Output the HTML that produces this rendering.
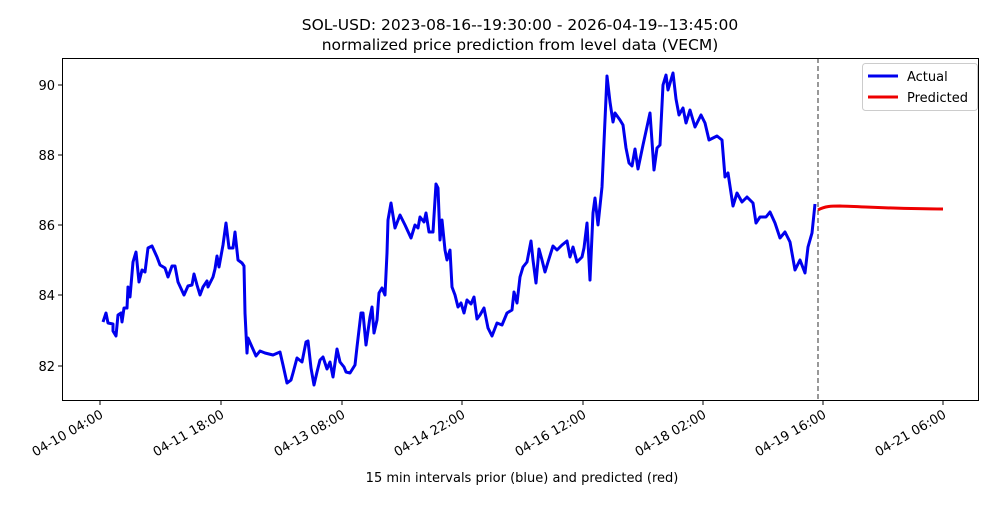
<!DOCTYPE html>
<html><head><meta charset="utf-8"><style>
body{margin:0;background:#fff;}
svg text{font-family:"DejaVu Sans","Liberation Sans",sans-serif;fill:#000;}
</style></head><body>
<svg width="1000" height="500" xmlns="http://www.w3.org/2000/svg">
<rect width="1000" height="500" fill="#fff"/>
<text x="520" y="30" font-size="15.5" text-anchor="middle">SOL-USD: 2023-08-16--19:30:00 - 2026-04-19--13:45:00</text>
<text x="520" y="50" font-size="15.5" text-anchor="middle">normalized price prediction from level data (VECM)</text>
<line x1="818" y1="58" x2="818" y2="400" stroke="#555" stroke-width="1.2" stroke-dasharray="5,3"/>
<polyline fill="none" stroke="#0000ee" stroke-width="3" stroke-linejoin="round" points="103,322 106,313 108,323 113,324 113,331 116,336 118,315 121,313 122,322 124,308 127,308 128,287 130,297 133,262 136,252 139,282 142,270 145,272 148,248 152,246 157,257 160,265 165,268 168,277 172,266 175,266 178,282 184,295 188,286 192,285 194,274 197,285 200,295 203,287 207,281 208,287 213,277 215,269 217,256 219,267 223,245 226,223 229,248 233,248 235,232 238,260 242,263 244,266 245,313 247,353 248,338 252,347 256,356 260,351 265,353 273,355 280,352 283,365 287,383 291,380 293,373 297,358 302,362 306,342 308,341 311,368 314,385 317,372 320,360 323,357 327,369 330,362 333,377 337,349 340,362 344,367 346,372 350,373 355,365 357,347 361,313 363,313 366,345 370,317 372,307 374,333 377,320 379,293 382,288 385,295 387,253 388,220 391,203 395,228 400,215 405,225 411,238 415,225 418,228 420,217 424,222 426,213 429,232 433,232 436,184 438,188 440,240 442,220 445,250 447,260 450,250 452,287 455,295 458,307 461,303 464,313 467,300 471,304 474,297 477,319 480,315 484,308 488,328 492,336 497,323 502,325 507,313 512,310 514,292 517,303 520,277 523,267 527,262 531,241 533,260 536,283 539,249 542,260 545,272 548,262 553,246 557,250 562,245 567,241 570,257 573,247 577,262 582,257 584,248 587,223 590,280 593,213 595,198 598,225 602,187 605,120 607,76 610,102 613,122 615,113 620,120 623,125 626,148 629,163 632,166 635,149 638,169 643,145 650,113 654,170 657,148 660,145 663,85 666,75 668,90 673,73 676,99 679,115 683,108 686,123 690,110 695,127 701,115 705,123 709,140 713,138 717,136 722,140 725,177 728,173 733,206 737,193 742,202 747,197 753,203 756,223 760,217 766,217 770,212 775,223 780,238 785,232 790,242 795,270 800,260 805,273 808,247 812,233 815,204"/>
<path d="M818,210 C825,206 832,206 840,206 C870,207 900,209 943,209" fill="none" stroke="#ee0000" stroke-width="3"/>
<rect x="62.5" y="58.5" width="916" height="342" fill="none" stroke="#000" stroke-width="1"/>
<g font-size="13" text-anchor="end">
<line x1="58" y1="85" x2="62" y2="85" stroke="#000"/><text x="55" y="90">90</text>
<line x1="58" y1="155" x2="62" y2="155" stroke="#000"/><text x="55" y="160">88</text>
<line x1="58" y1="225" x2="62" y2="225" stroke="#000"/><text x="55" y="230">86</text>
<line x1="58" y1="295" x2="62" y2="295" stroke="#000"/><text x="55" y="300">84</text>
<line x1="58" y1="366" x2="62" y2="366" stroke="#000"/><text x="55" y="371">82</text>
</g>
<g font-size="13" text-anchor="end" stroke="none">
<g><line x1="100" y1="401" x2="100" y2="405" stroke="#000"/><text transform="translate(104,417) rotate(-30)">04-10 04:00</text></g>
<g><line x1="221" y1="401" x2="221" y2="405" stroke="#000"/><text transform="translate(225,417) rotate(-30)">04-11 18:00</text></g>
<g><line x1="342" y1="401" x2="342" y2="405" stroke="#000"/><text transform="translate(346,417) rotate(-30)">04-13 08:00</text></g>
<g><line x1="462" y1="401" x2="462" y2="405" stroke="#000"/><text transform="translate(466,417) rotate(-30)">04-14 22:00</text></g>
<g><line x1="583" y1="401" x2="583" y2="405" stroke="#000"/><text transform="translate(587,417) rotate(-30)">04-16 12:00</text></g>
<g><line x1="703" y1="401" x2="703" y2="405" stroke="#000"/><text transform="translate(707,417) rotate(-30)">04-18 02:00</text></g>
<g><line x1="823" y1="401" x2="823" y2="405" stroke="#000"/><text transform="translate(827,417) rotate(-30)">04-19 16:00</text></g>
<g><line x1="943" y1="401" x2="943" y2="405" stroke="#000"/><text transform="translate(947,417) rotate(-30)">04-21 06:00</text></g>
</g>
<text x="522" y="482" font-size="13" text-anchor="middle">15 min intervals prior (blue) and predicted (red)</text>
<rect x="862.5" y="63.5" width="115" height="47" rx="3" fill="#fff" stroke="#ccc"/>
<line x1="868" y1="76" x2="898" y2="76" stroke="#0000ee" stroke-width="3"/>
<text x="907" y="81" font-size="13">Actual</text>
<line x1="868" y1="97" x2="898" y2="97" stroke="#ee0000" stroke-width="3"/>
<text x="907" y="102" font-size="13">Predicted</text>
</svg>
</body></html>
